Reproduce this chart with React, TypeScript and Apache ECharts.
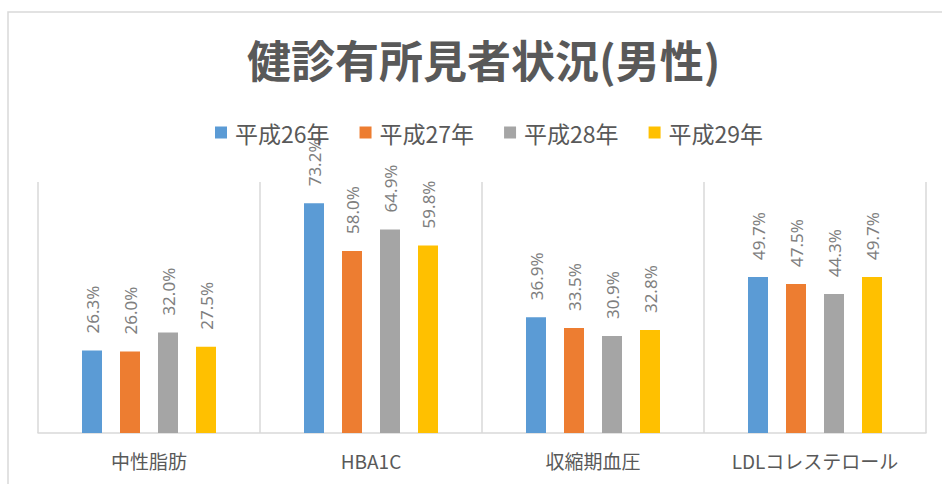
import React, { useEffect, useRef } from "react";
import * as echarts from "echarts";

const categories = ["中性脂肪", "HBA1C", "収縮期血圧", "LDLコレステロール"];
const seriesNames = ["平成26年", "平成27年", "平成28年", "平成29年"];
const h26 = [26.3, 73.2, 36.9, 49.7];
const h27 = [26.0, 58.0, 33.5, 47.5];
const h28 = [32.0, 64.9, 30.9, 44.3];
const h29 = [27.5, 59.8, 32.8, 49.7];
const colors = ["#5B9BD5", "#ED7D31", "#A5A5A5", "#FFC000"];

export default function App() {
  const ref = useRef<HTMLDivElement>(null);
  useEffect(() => {
    document.body.style.margin = "0";
    const chart = echarts.init(ref.current!, undefined, { renderer: "svg" });
    const data = [h26, h27, h28, h29];
    chart.setOption({
      animation: false,
      backgroundColor: "#ffffff",
      graphic: [
        {
          type: "rect",
          shape: { x: 8, y: 12, width: 1200, height: 1200 },
          style: { fill: "none", stroke: "#d9d9d9", lineWidth: 1.5 },
          silent: true,
          z: -1,
        },
      ],
      title: {
        text: "健診有所見者状況(男性)",
        left: 242,
        top: 32,
        textStyle: {
          fontFamily: "Noto Sans CJK JP",
          fontSize: 44,
          fontWeight: "bold",
          color: "#595959",
        },
      },
      legend: {
        data: seriesNames,
        left: 210,
        top: 116,
        itemWidth: 12,
        itemHeight: 12,
        itemGap: 30,
        icon: "rect",
        textStyle: {
          fontFamily: "Noto Sans CJK JP",
          fontSize: 23,
          color: "#595959",
          padding: [0, 0, 0, 3],
        },
      },
      grid: { left: 38, right: 16, top: 182, bottom: 51 },
      xAxis: {
        type: "category",
        data: categories,
        axisLine: { lineStyle: { color: "#d9d9d9", width: 1.5 } },
        axisTick: { show: false },
        splitLine: { show: true, lineStyle: { color: "#d9d9d9", width: 1.5 } },
        axisLabel: {
          fontFamily: "Noto Sans CJK JP",
          fontSize: 19,
          color: "#595959",
          margin: 18,
        },
      },
      yAxis: {
        type: "value",
        min: 0,
        max: 80,
        show: false,
        splitLine: { show: false },
      },
      series: data.map((d, i) => ({
        name: seriesNames[i],
        type: "bar",
        data: d,
        barWidth: 20,
        barGap: "90%",
        itemStyle: { color: colors[i] },
        label: {
          show: true,
          position: "top",
          rotate: 90,
          align: "left",
          verticalAlign: "middle",
          distance: 17,
          formatter: (p: any) => p.value.toFixed(1) + "%",
          fontFamily: "Noto Sans",
          fontSize: 17,
          color: "#7f7f7f",
        },
      })),
    });
    return () => chart.dispose();
  }, []);
  return <div ref={ref} style={{ width: 942, height: 484 }} />;
}
